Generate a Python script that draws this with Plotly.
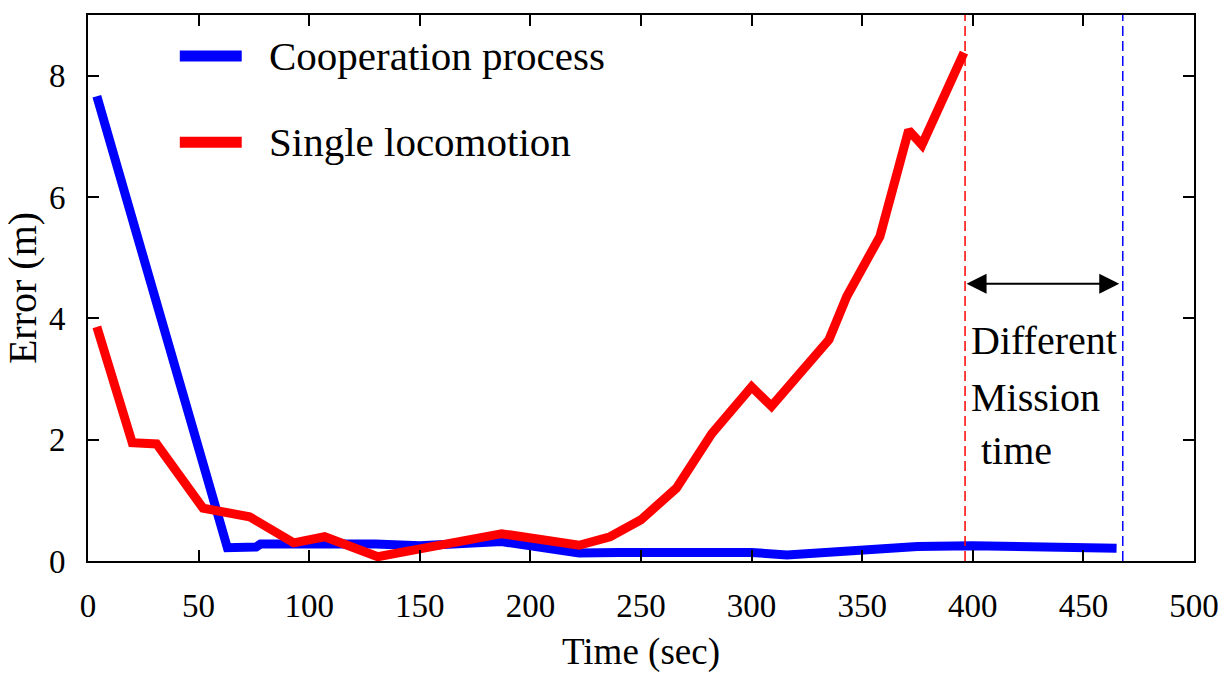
import plotly.graph_objects as go

# ---- data ----
coop_time = [4, 63, 76, 78, 130, 150, 187, 222, 240, 300, 316, 350, 375, 400, 430, 465]
coop_error = [7.66, 0.22, 0.23, 0.28, 0.28, 0.25, 0.32, 0.13, 0.14, 0.14, 0.10, 0.18, 0.24, 0.25, 0.23, 0.21]

single_time = [4, 20, 31, 52, 73, 93, 107, 131, 147, 187, 222, 236, 250, 266, 282, 300, 309,
               321, 335, 343, 358, 371, 377, 396]
single_error = [3.86, 1.95, 1.93, 0.87, 0.73, 0.30, 0.40, 0.07, 0.18, 0.45, 0.26, 0.40, 0.68,
                1.20, 2.10, 2.87, 2.55, 3.05, 3.65, 4.36, 5.35, 7.10, 6.86, 8.38]

single_end = 396.5     # mission end, single locomotion
coop_end = 467.8       # mission end, cooperation process
arrow_level = 4.57

series_names = ["Cooperation process", "Single locomotion"]
series_colors = ["#0000ff", "#ff0000"]
note_lines = ["Different", "Mission", "&nbsp;time"]
note_levels = [3.63, 2.69, 1.82]

x_ticks = [0, 50, 100, 150, 200, 250, 300, 350, 400, 450, 500]
y_ticks = [0, 2, 4, 6, 8]

FONT = "Liberation Serif, Times New Roman, serif"

fig = go.Figure()
fig.add_trace(go.Scatter(x=coop_time, y=coop_error, mode="lines", name=series_names[0],
                         line=dict(color=series_colors[0], width=9), showlegend=False))
fig.add_trace(go.Scatter(x=single_time, y=single_error, mode="lines", name=series_names[1],
                         line=dict(color=series_colors[1], width=9), showlegend=False))

# mission-end dashed markers
fig.add_vline(x=single_end, line=dict(color=series_colors[1], width=1.5, dash="10px,5px"))
fig.add_vline(x=coop_end, line=dict(color=series_colors[0], width=1.5, dash="10px,5px"))

# double-headed arrow between the mission ends
fig.add_annotation(x=coop_end - 1.6, y=arrow_level, ax=single_end, ay=arrow_level,
                   xref="x", yref="y", axref="x", ayref="y", text="",
                   showarrow=True, arrowside="end+start", arrowhead=2, startarrowhead=2,
                   arrowsize=2, startarrowsize=2, arrowwidth=2, arrowcolor="black",
                   standoff=0, startstandoff=0)

for txt, lvl in zip(note_lines, note_levels):
    fig.add_annotation(x=single_end + 1.7, y=lvl, xref="x", yref="y", text=txt,
                       showarrow=False, xanchor="left", yanchor="middle",
                       font=dict(family=FONT, size=40, color="black"))

# custom legend (long line samples like the reference)
legend_y = [0.925, 0.767]
for name, col, ly in zip(series_names, series_colors, legend_y):
    fig.add_shape(type="line", xref="x domain", yref="y domain",
                  x0=0.083, x1=0.139, y0=ly, y1=ly, line=dict(color=col, width=11))
    fig.add_annotation(x=0.162, y=ly, xref="x domain", yref="y domain", text=name,
                       showarrow=False, xanchor="left", yanchor="middle",
                       font=dict(family=FONT, size=41, color="black"))

axis_common = dict(showline=True, linecolor="black", linewidth=2, mirror="ticks",
                   ticks="inside", ticklen=11, tickwidth=2, tickcolor="black",
                   showgrid=False, zeroline=False, automargin=False,
                   tickfont=dict(family=FONT, size=33, color="black"))

fig.update_xaxes(range=[0, 500], tickvals=x_ticks, ticklabelstandoff=14,
                 title=dict(text="Time (sec)", font=dict(family=FONT, size=37, color="black"),
                            standoff=24),
                 **axis_common)
fig.update_yaxes(range=[0, 9], tickvals=y_ticks, ticklabelstandoff=14,
                 title=dict(text="Error (m)", font=dict(family=FONT, size=40, color="black"),
                            standoff=8),
                 **axis_common)

fig.update_layout(width=1226, height=673, margin=dict(l=88, r=32, t=15, b=112),
                  plot_bgcolor="white", paper_bgcolor="white")

fig.write_html("out.html")
